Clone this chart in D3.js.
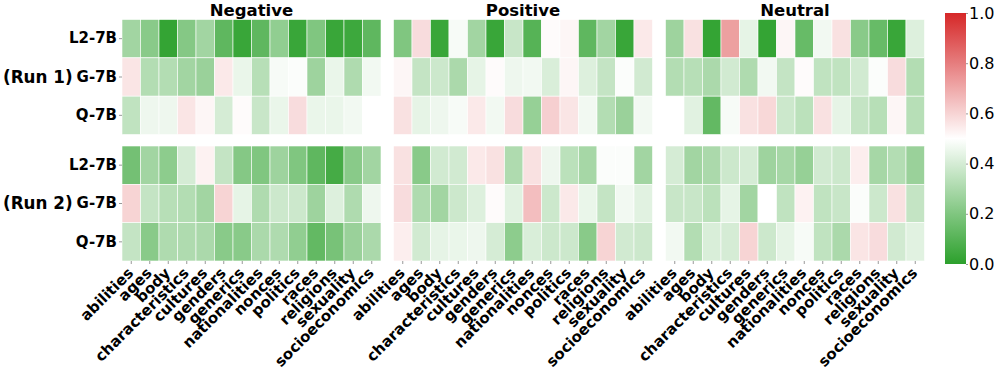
<!DOCTYPE html>
<html lang="en">
<head>
<meta charset="UTF-8">
<title>Heatmap</title>
<script src="https://cdn.jsdelivr.net/npm/d3@7"></script>
<style>
  body { margin: 0; background: #fff; }
  text { font-family: "DejaVu Sans", sans-serif; }
</style>
</head>
<body>
<svg id="chart"></svg>
<script>
// categories / rows / panels
const categories = ["abilities", "ages", "body", "characteristics", "cultures", "genders", "generics",
  "nationalities", "nonces", "politics", "races", "religions", "sexuality", "socioeconomics"];
const models = ["L2-7B", "G-7B", "Q-7B"];
const runs = ["(Run 1)", "(Run 2)"];
const panels = ["Negative", "Positive", "Neutral"];
const colorTicks = [0.0, 0.2, 0.4, 0.6, 0.8, 1.0];

// values, one array of rows (L2, G, Q) per panel and run
const negativeRun1 = [
  [0.28, 0.22, 0.02, 0.21, 0.28, 0.12, 0.03, 0.12, 0.24, 0.03, 0.20, 0.03, 0.04, 0.12],
  [0.56, 0.32, 0.32, 0.28, 0.26, 0.55, 0.45, 0.33, 0.48, 0.49, 0.27, 0.45, 0.31, 0.47],
  [0.35, 0.46, 0.46, 0.56, 0.52, 0.40, 0.51, 0.37, 0.45, 0.58, 0.45, 0.45, 0.47, 0.50]
];
const negativeRun2 = [
  [0.17, 0.28, 0.23, 0.40, 0.53, 0.36, 0.21, 0.20, 0.27, 0.20, 0.12, 0.06, 0.22, 0.28],
  [0.60, 0.36, 0.33, 0.32, 0.28, 0.60, 0.44, 0.31, 0.38, 0.38, 0.27, 0.42, 0.31, 0.46],
  [0.36, 0.22, 0.31, 0.31, 0.30, 0.22, 0.22, 0.30, 0.31, 0.24, 0.13, 0.18, 0.26, 0.30]
];
const positiveRun1 = [
  [0.20, 0.58, 0.03, 0.48, 0.28, 0.03, 0.37, 0.10, 0.51, 0.52, 0.12, 0.28, 0.03, 0.55],
  [0.52, 0.36, 0.38, 0.30, 0.44, 0.51, 0.46, 0.47, 0.41, 0.52, 0.42, 0.36, 0.49, 0.39],
  [0.57, 0.44, 0.46, 0.48, 0.55, 0.47, 0.58, 0.25, 0.61, 0.56, 0.47, 0.32, 0.26, 0.47]
];
const positiveRun2 = [
  [0.57, 0.22, 0.39, 0.39, 0.55, 0.57, 0.31, 0.57, 0.46, 0.34, 0.29, 0.49, 0.49, 0.28],
  [0.58, 0.31, 0.28, 0.38, 0.42, 0.51, 0.43, 0.65, 0.38, 0.55, 0.45, 0.36, 0.47, 0.43],
  [0.54, 0.39, 0.44, 0.45, 0.46, 0.40, 0.23, 0.41, 0.38, 0.38, 0.22, 0.60, 0.39, 0.38]
];
const neutralRun1 = [
  [0.27, 0.57, 0.02, 0.72, 0.44, 0.02, 0.52, 0.14, 0.47, 0.57, 0.22, 0.14, 0.03, 0.42],
  [0.32, 0.33, 0.30, 0.39, 0.31, 0.47, 0.36, 0.51, 0.35, 0.35, 0.39, 0.49, 0.58, 0.32],
  [0.50, 0.43, 0.13, 0.48, 0.57, 0.59, 0.38, 0.34, 0.57, 0.44, 0.36, 0.33, 0.52, 0.33]
];
const neutralRun2 = [
  [0.40, 0.28, 0.30, 0.38, 0.40, 0.27, 0.29, 0.25, 0.39, 0.38, 0.54, 0.29, 0.32, 0.26],
  [0.37, 0.37, 0.34, 0.44, 0.28, 0.50, 0.35, 0.53, 0.35, 0.37, 0.49, 0.38, 0.57, 0.36],
  [0.47, 0.32, 0.41, 0.40, 0.60, 0.38, 0.44, 0.48, 0.35, 0.30, 0.56, 0.58, 0.39, 0.43]
];

const panelData = [
  [negativeRun1, negativeRun2],
  [positiveRun1, positiveRun2],
  [neutralRun1, neutralRun2]
];

const width = 996, height = 374;
const svg = d3.select("#chart").attr("width", width).attr("height", height);

const color = d3.scaleLinear()
  .domain([0, 0.5, 1])
  .range(["#2ca02c", "#ffffff", "#d62728"]);

const panelLeft = [122, 393.5, 665.5];
const panelWidth = 259;
const runTop = [19.5, 146];
const runHeight = 115;

panels.forEach((name, p) => {
  const x = d3.scaleBand().domain(categories).range([panelLeft[p], panelLeft[p] + panelWidth]);
  const g = svg.append("g");

  g.append("text")
    .attr("x", panelLeft[p] + panelWidth / 2)
    .attr("y", 16)
    .attr("text-anchor", "middle")
    .attr("font-size", 16.5)
    .attr("font-weight", "bold")
    .text(name);

  runs.forEach((run, r) => {
    const y = d3.scaleBand().domain(models).range([runTop[r], runTop[r] + runHeight]);
    const rows = panelData[p][r];
    const cells = [];
    rows.forEach((row, i) => row.forEach((v, j) => cells.push({ m: models[i], c: categories[j], v })));

    g.append("g").selectAll("rect")
      .data(cells)
      .join("rect")
      .attr("x", d => x(d.c))
      .attr("y", d => y(d.m))
      .attr("width", x.bandwidth())
      .attr("height", y.bandwidth())
      .attr("fill", d => color(d.v))
      .attr("stroke", "#ffffff")
      .attr("stroke-width", 0.6);

    if (p === 0) {
      const ax = g.append("g")
        .attr("transform", `translate(${panelLeft[0]},0)`)
        .call(d3.axisLeft(y).tickSize(3).tickPadding(2));
      ax.select(".domain").remove();
      ax.selectAll("line").attr("stroke", "#999");
      ax.selectAll("text")
        .attr("font-size", 15)
        .attr("font-weight", "bold")
        .attr("fill", "#000")
        .attr("font-family", "DejaVu Sans");

      g.append("text")
        .attr("x", 3)
        .attr("y", y(models[1]) + y.bandwidth() / 2)
        .attr("dy", "0.35em")
        .attr("font-size", 16.8)
        .attr("font-weight", "bold")
        .text(run);
    }
  });

  const xa = g.append("g")
    .attr("transform", `translate(0,${runTop[1] + runHeight})`)
    .call(d3.axisBottom(x).tickSize(3).tickPadding(2));
  xa.select(".domain").remove();
  xa.selectAll("line").attr("stroke", "#999");
  xa.selectAll("text")
    .attr("font-size", 15)
    .attr("font-weight", "bold")
    .attr("fill", "#000")
    .attr("font-family", "DejaVu Sans")
    .attr("text-anchor", "end")
    .attr("dy", null)
    .attr("y", 0)
    .attr("transform", "translate(3,13) rotate(-45)");
});

// colorbar
const cbX = 945, cbW = 21, cbTop = 13, cbBottom = 264;
const defs = svg.append("defs");
const grad = defs.append("linearGradient")
  .attr("id", "cbGrad").attr("x1", 0).attr("y1", 1).attr("x2", 0).attr("y2", 0);
d3.range(0, 1.0001, 0.05).forEach(t => {
  grad.append("stop").attr("offset", t).attr("stop-color", color(t));
});
svg.append("rect")
  .attr("x", cbX).attr("y", cbTop)
  .attr("width", cbW).attr("height", cbBottom - cbTop)
  .attr("fill", "url(#cbGrad)");

const cbScale = d3.scaleLinear().domain([0, 1]).range([cbBottom, cbTop]);
const cbAxis = svg.append("g")
  .attr("transform", `translate(${cbX + cbW},0)`)
  .call(d3.axisRight(cbScale).tickValues(colorTicks).tickFormat(d3.format(".1f")).tickSize(2).tickPadding(1));
cbAxis.select(".domain").remove();
cbAxis.selectAll("line").attr("stroke", "#999");
cbAxis.selectAll("text")
  .attr("font-size", 16)
  .attr("fill", "#000")
  .attr("font-family", "DejaVu Sans");
</script>
</body>
</html>
